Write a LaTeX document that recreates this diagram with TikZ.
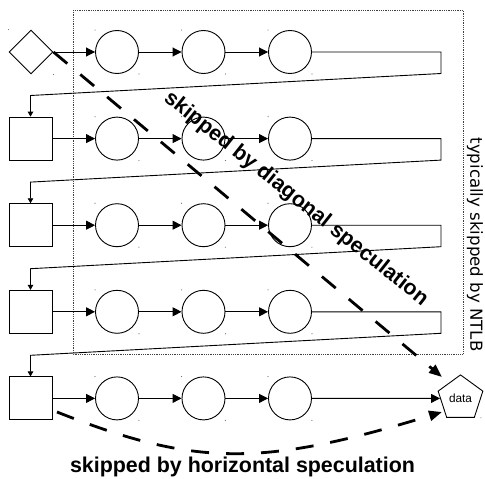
\documentclass[tikz,border=0pt]{standalone}
\usepackage{fontspec}
\setmainfont{Liberation Sans}
\newfontfamily\dejavu{DejaVu Sans}
\usetikzlibrary{arrows.meta,shapes.geometric,calc}

\begin{document}
\begin{tikzpicture}[x=1pt,y=-1pt,
  stage/.style={circle,draw,line width=0.9pt,minimum size=43pt,inner sep=0pt},
  blockbox/.style={rectangle,draw,line width=0.9pt,minimum size=43pt,inner sep=0pt},
  startbox/.style={diamond,draw,line width=0.9pt,minimum size=44pt,inner sep=0pt,aspect=1},
  databox/.style={regular polygon,regular polygon sides=5,draw,line width=0.9pt,
    minimum size=47pt,inner sep=0pt,font=\fontsize{11.8}{13}\selectfont},
  flow/.style={line width=0.9pt,-{Triangle[length=9pt,width=9pt]}},
  wire/.style={line width=0.9pt,-{Triangle[length=5pt,width=5.5pt]}},
  skipline/.style={line width=2.8pt,dash pattern=on 18pt off 17pt,
    -{Triangle[length=13pt,width=10pt]}},
  frame/.style={draw=black!75,line width=0.8pt,dash pattern=on 0.9pt off 0.9pt},
  bigtext/.style={font=\bfseries\fontsize{21.4}{24}\selectfont,inner sep=0pt},
  sidetext/.style={font=\dejavu\fontsize{16.6}{18}\selectfont,inner sep=0pt},
  corner/.style={fill=black!55}
]
\useasboundingbox (0,0) rectangle (485,479);

% region usually skipped by the NTLB
\draw[frame] (73,10) rectangle (463,354);
\node[sidetext,rotate=-90] (ntlbtext) at (475,244.5) {typically skipped by NTLB};

% first row starts with a decision, later rows with a block
\node[startbox] (s1) at (31,52) {};
\foreach \r/\y in {2/138.6,3/225.2,4/311.8,5/398.4}
  \node[blockbox] (s\r) at (30.5,\y) {};

% three stages per row
\foreach \r/\y in {1/52,2/138.6,3/225.2,4/311.8,5/398.4}{
  \foreach \c/\x in {1/117,2/203.5,3/290}{
    \node[stage] (c\r\c) at (\x,\y) {};
    \fill[corner] (c\r\c.west |- c\r\c.north) circle (0.6);
    \fill[corner] (c\r\c.east |- c\r\c.south) circle (0.6);
  }
}
\fill[corner] (s1.west |- s1.north) circle (0.6);
\fill[corner] (s1.east |- s1.south) circle (0.6);

\node[databox] (data) at (460.5,398.4) {data};
\fill[corner] (data.east |- data.south) circle (0.6);

% chains along each row
\foreach \r in {1,...,5}{
  \draw[flow] (s\r) -- (c\r1);
  \draw[flow] (c\r1) -- (c\r2);
  \draw[flow] (c\r2) -- (c\r3);
}
\draw[flow] (c53) -- (data);

% wrap-around from the end of a row to the start of the next one
\foreach \r/\n/\y in {1/2/52,2/3/138.6,3/4/225.2,4/5/311.8}{
  \coordinate (ra\r) at (441,\y);
  \coordinate (rb\r) at (441,\y+21.5);
  \coordinate (rc\r) at (30.5,\y+43.5);
  \draw[wire] (c\r3) -- (ra\r) -- (rb\r) -- (rc\r) -- (s\n);
}

% speculation shortcuts
\coordinate (diagtip) at (442,377);
\draw[skipline] (s1.east) -- (diagtip);
\node[bigtext,rotate=-38.5] (diaglabel) at (296,199) {skipped by diagonal speculation};

\coordinate (hstart) at (57,412);
\coordinate (hend) at (442,412);
\draw[skipline] (hstart) .. controls (196,467) and (262,467) .. (hend);
\node[bigtext,anchor=base] (horlabel) at (242.5,472) {skipped by horizontal speculation};
\end{tikzpicture}
\end{document}
